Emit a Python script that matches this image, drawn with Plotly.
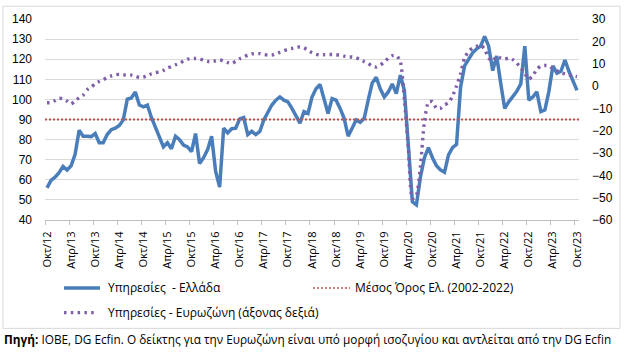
import plotly.graph_objects as go

# ---------------- data ----------------
tick_labels = ["Οκτ/12", "Απρ/13", "Οκτ/13", "Απρ/14", "Οκτ/14", "Απρ/15", "Οκτ/15",
               "Απρ/16", "Οκτ/16", "Απρ/17", "Οκτ/17", "Απρ/18", "Οκτ/18", "Απρ/19",
               "Οκτ/19", "Απρ/20", "Οκτ/20", "Απρ/21", "Οκτ/21", "Απρ/22", "Οκτ/22",
               "Απρ/23", "Οκτ/23"]

# Υπηρεσίες - Ελλάδα (left axis), monthly Oct/12 .. Oct/23
greece = [56, 59.7, 61.3, 63.5, 66.7, 64.9, 67, 72.7, 84.6, 81.7,
          81.7, 81.5, 83, 78.4, 78.4, 82.5, 84.9, 85.7, 87, 89.8,
          100.1, 100.7, 103.7, 97.2, 96.3, 97.2, 91, 86, 81.5, 76.4,
          78.4, 75.5, 81.7, 80, 77.3, 76.4, 74, 83, 68.1, 71,
          75, 81.7, 64.2, 56.4, 85.7, 83.3, 85.4, 85.7, 90.3, 91,
          82.5, 84.1, 82.5, 84.1, 89.8, 93.5, 97.2, 99.6, 101.2, 99.6,
          98.8, 95.5, 91.4, 88.2, 93.9, 93, 101.2, 105.3, 107.4, 100.4,
          93, 100.4, 99.6, 95.5, 90.6, 81.7, 85.7, 89.8, 88.6, 90.6,
          99.6, 108.2, 111, 105.3, 101.2, 103.7, 107.7, 102.9, 112.1, 104.5,
          77, 49, 47.5, 61.3, 71, 76, 71, 67, 64.9, 63.7,
          72.4, 76, 77.6, 106, 116.7, 120.3, 123.2, 125.2, 126.5, 131.4,
          126.5, 114.3, 121.6, 108, 95.5, 98.8, 101.2, 104, 107.7, 126.5,
          99.6, 101.2, 103.7, 93.9, 94.7, 104, 116.7, 113, 114, 119.6,
          114, 109.4, 104.5]

# Υπηρεσίες - Ευρωζώνη (right axis, balance)
euro = [-7.5, -7.4, -6.5, -5.5, -5.8, -6.8, -8, -6.7, -5.2, -4.1,
        -1.7, -0.5, 1, 2, 2.8, 3.8, 4.5, 5, 5.2, 5,
        4.9, 4.9, 4.3, 3.8, 4, 4.5, 5.5, 6, 6.3, 7,
        8.1, 8.7, 9.5, 10.1, 11.2, 12, 12.3, 12.3, 12.2, 11.5,
        11, 10.8, 11.3, 11.7, 11.1, 10.5, 10.1, 11, 12.2, 13,
        13.9, 14.4, 14.5, 14.5, 14.1, 13.8, 13.8, 14.5, 15.1, 15.8,
        16.4, 16.8, 17.2, 17.5, 17.1, 16, 14.9, 14.2, 13.8, 14,
        14.1, 14.1, 14, 13.8, 13.4, 13, 13, 12.6, 11.9, 10.9,
        10.1, 8.8, 8.5, 9.4, 10.7, 12.5, 13.6, 13.6, 11, -6,
        -28, -50.5, -49, -36, -16, -7.2, -7, -10, -10, -8.5,
        -7.5, -4.5, 0, 5.5, 12.5, 15.5, 17, 17.8, 18.3, 16.5,
        12.5, 11.2, 13.2, 12.5, 12, 12.5, 11.8, 10.2, 8.2, 5.6,
        3.1, 4.6, 7.5, 8.9, 9.2, 9, 7.8, 6.8, 6, 5.4,
        5, 4.5, 4.2]

mean_greece = 90  # Μέσος Όρος Ελ. (2002-2022)

# ---------------- layout helpers ----------------
W, H = 626, 353
L, R, T, B = 45, 47, 16, 133
PW, PH = W - L - R, H - T - B


def fx(px):
    return (px - L) / PW


def fy(py):
    return (T + PH - py) / PH


n = len(greece)
idx = list(range(n))

BLUE = "#4A7EBB"
PURPLE = "#7F60A8"
RED = "#C0504D"
FONT = "Open Sans"

fig = go.Figure()
fig.add_trace(go.Scatter(x=idx, y=greece, mode="lines", name="Υπηρεσίες  - Ελλάδα",
                         line=dict(color=BLUE, width=3.5), yaxis="y"))
fig.add_trace(go.Scatter(x=[-0.5, n - 0.5], y=[mean_greece, mean_greece], mode="lines",
                         name="Μέσος Όρος Ελ. (2002-2022)",
                         line=dict(color=RED, width=2, dash="2px,2px"), yaxis="y"))
fig.add_trace(go.Scatter(x=idx, y=euro, mode="lines", name="Υπηρεσίες - Ευρωζώνη (άξονας δεξιά)",
                         line=dict(color=PURPLE, width=3.4, dash="2.5px,4.3px", shape="spline", smoothing=0.6),
                         yaxis="y2"))

fig.update_layout(
    width=W, height=H, autosize=False,
    margin=dict(l=L, r=R, t=T, b=B),
    paper_bgcolor="white", plot_bgcolor="white",
    showlegend=False,
    font=dict(family="Liberation Sans", size=11, color="#000000"),
    xaxis=dict(
        range=[-0.5, n - 0.5],
        tickmode="array",
        tickvals=list(range(0, n, 6)),
        ticktext=tick_labels,
        tickangle=-90,
        ticks="",
        ticklabelstandoff=6,
        tickfont=dict(family=FONT, size=11),
        showgrid=False, zeroline=False,
        showline=True, linecolor="#BFBFBF", linewidth=1,
        minor=dict(tickmode="linear", tick0=-0.5, dtick=6, ticks="outside",
                   ticklen=4, tickcolor="#BFBFBF", tickwidth=1, showgrid=False),
    ),
    yaxis=dict(
        range=[40, 140], dtick=10, tick0=40,
        showgrid=True, gridcolor="#D9D9D9", gridwidth=1,
        zeroline=False, ticks="", ticklabelstandoff=12,
        tickfont=dict(family="Liberation Sans", size=12),
    ),
    yaxis2=dict(
        range=[-60, 30], dtick=10, tick0=-60,
        overlaying="y", side="right",
        showgrid=False, zeroline=False, ticks="", ticklabelstandoff=12,
        tickfont=dict(family="Liberation Sans", size=12),
    ),
)

# outer frame
fig.add_shape(type="rect", xref="paper", yref="paper",
              x0=fx(3), x1=fx(620), y0=fy(330), y1=fy(3),
              line=dict(color="#D9D9D9", width=1), fillcolor="rgba(0,0,0,0)", layer="below")

# legend (manual)
leg = [
    (64, 100, 289, dict(color=BLUE, width=3.5), 106, "Υπηρεσίες  - Ελλάδα"),
    (313, 350, 289, dict(color=RED, width=1.5, dash="2px,2px"), 353, "Μέσος Όρος Ελ. (2002-2022)"),
    (64, 98, 314, dict(color=PURPLE, width=3.2, dash="2.5px,4.3px"), 106, "Υπηρεσίες - Ευρωζώνη (άξονας δεξιά)"),
]
for x0, x1, yy, ln, tx, text in leg:
    fig.add_shape(type="line", xref="paper", yref="paper",
                  x0=fx(x0), x1=fx(x1), y0=fy(yy), y1=fy(yy), line=ln)
    fig.add_annotation(xref="paper", yref="paper", x=fx(tx), y=fy(yy), text=text,
                       showarrow=False, xanchor="left", yanchor="middle",
                       font=dict(family=FONT, size=12, color="#000000"))

# source note
fig.add_annotation(xref="paper", yref="paper", x=fx(2), y=fy(341),
                   text="<b>Πηγή:</b> ΙΟΒΕ, DG Ecfin. Ο δείκτης για την Ευρωζώνη είναι υπό μορφή ισοζυγίου και αντλείται από την DG Ecfin",
                   showarrow=False, xanchor="left", yanchor="middle",
                   font=dict(family=FONT, size=11.8, color="#000000"))

fig.write_html("out.html")
